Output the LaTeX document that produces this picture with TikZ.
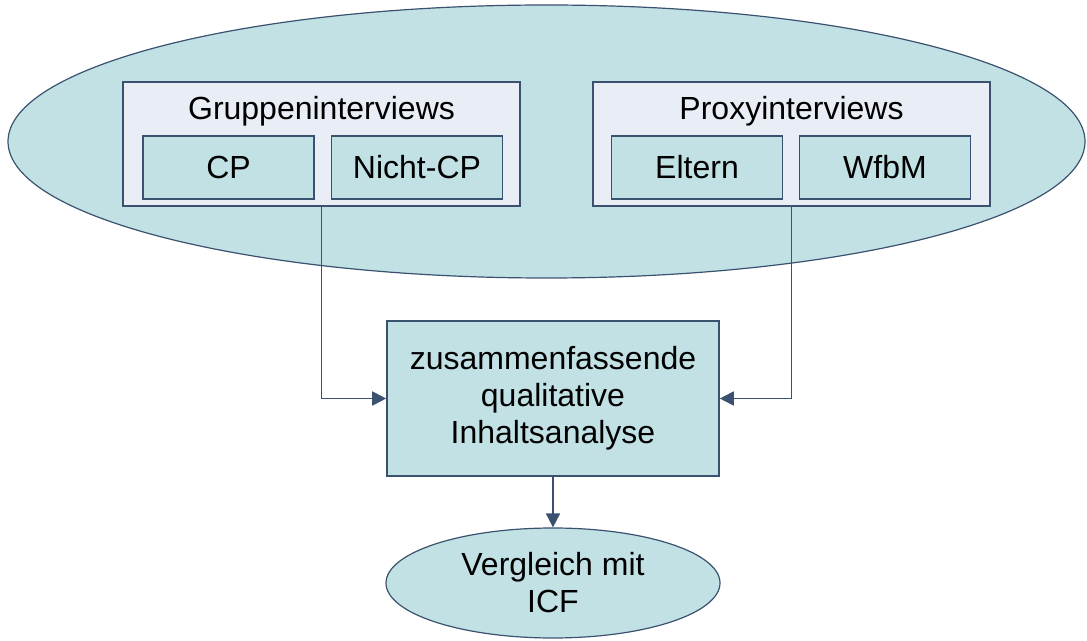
\documentclass[tikz,border=0pt]{standalone}
\usepackage{fontspec}
\setmainfont{Liberation Sans}
\usetikzlibrary{shapes.geometric,arrows.meta}

\definecolor{tealfill}{HTML}{C1E1E5}
\definecolor{palefill}{HTML}{E9EEF6}
\definecolor{edgeblue}{HTML}{3B5170}

\tikzset{
  txt/.style={font=\fontsize{16}{18.5}\selectfont, align=center, inner sep=0pt},
  outerbox/.style={draw=edgeblue, fill=palefill, line width=0.8pt, rectangle, minimum width=198.5pt, minimum height=62pt},
  subbox/.style={txt, draw=edgeblue, fill=tealfill, line width=0.8pt, rectangle, minimum width=85.5pt, minimum height=31.5pt},
  oval/.style={txt, draw=edgeblue, fill=tealfill, line width=0.6pt, ellipse},
  link/.style={draw=edgeblue, line width=0.9pt, -{Triangle[width=7pt,length=7pt]}}
}

\begin{document}
\begin{tikzpicture}[x=0.5pt, y=-0.5pt]
    \useasboundingbox (0,0) rectangle (1087,641);
    % outer ellipse
    \node[oval, minimum width=538.5pt, minimum height=136.5pt] (pool) at (546.5,141.5) {};
    % interview groups
    \node[outerbox] (group) at (321.5,144) {};
    \node[txt] (grouptitle) at (321.5,111) {Gruppeninterviews};
    \node[subbox] (cp) at (228.5,167.5) {CP};
    \node[subbox] (noncp) at (417,167.5) {Nicht-CP};
    \node[outerbox] (proxy) at (791.5,144) {};
    \node[txt] (proxytitle) at (791.5,111) {Proxyinterviews};
    \node[subbox] (parents) at (697,167.5) {Eltern};
    \node[subbox] (wfbm) at (885,167.5) {WfbM};
    % analysis
    \node[txt, draw=edgeblue, fill=tealfill, line width=0.8pt, rectangle, minimum width=166pt, minimum height=77.5pt] (analysis) at (553,398.5) {zusammenfassende\\qualitative\\Inhaltsanalyse};
    \node[oval, minimum width=167pt, minimum height=55pt] (icf) at (553,583) {Vergleich mit\\ICF};
    % connectors
    \draw[link] (group.south) |- (analysis.west);
    \draw[link] (proxy.south) |- (analysis.east);
    \draw[link] (analysis.south) -- (icf.north);
\end{tikzpicture}
\end{document}
